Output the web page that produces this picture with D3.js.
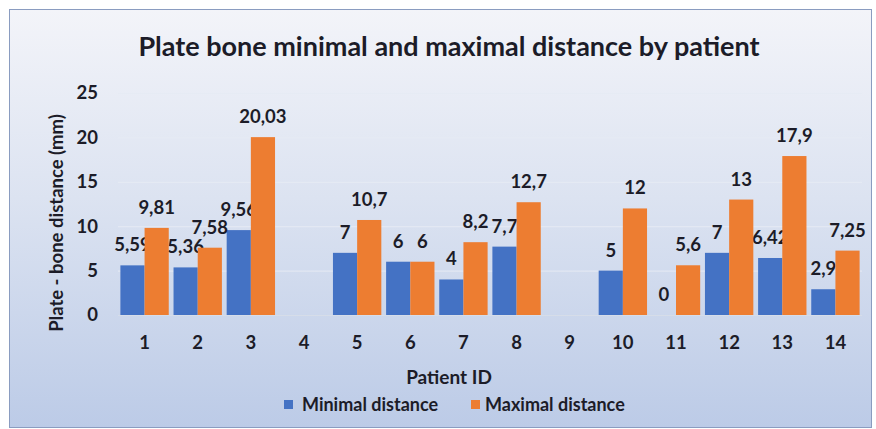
<!DOCTYPE html>
<html><head><meta charset="utf-8">
<script src="https://cdn.jsdelivr.net/npm/d3@7"></script>
<style>body{margin:0;background:#fff}svg{display:block}text{font-family:Lato,"Open Sans",sans-serif;font-weight:bold;fill:#1c1c28}</style>
</head><body><svg id="c" width="876" height="429"></svg>
<script>
const categories = ["1","2","3","4","5","6","7","8","9","10","11","12","13","14"];
const minimal = [5.59, 5.36, 9.56, null, 7, 6, 4, 7.7, null, 5, 0, 7, 6.42, 2.9];
const maximal = [9.81, 7.58, 20.03, null, 10.7, 6, 8.2, 12.7, null, 12, 5.6, 13, 17.9, 7.25];
const yTicks = [0, 5, 10, 15, 20, 25];
const seriesNames = ["Minimal distance", "Maximal distance"];
const colors = ["#4472C4", "#ED7D31"];

const svg = d3.select("#c");
const defs = svg.append("defs");
const g = defs.append("linearGradient").attr("id","bg").attr("x1",0).attr("y1",0).attr("x2",0).attr("y2",1);
g.append("stop").attr("offset","0%").attr("stop-color","#f3f4f9");
g.append("stop").attr("offset","45%").attr("stop-color","#dce3f1");
g.append("stop").attr("offset","100%").attr("stop-color","#bccbe7");
svg.append("rect").attr("x",9.5).attr("y",9.5).attr("width",862).attr("height",418)
  .attr("fill","url(#bg)").attr("stroke","#8a9cc0").attr("stroke-width",1);

const x = d3.scaleBand().domain(categories).range([118, 862]).paddingInner(0.09).paddingOuter(0.045);
const x1 = d3.scaleBand().domain([0,1]).range([0, x.bandwidth()]);
const y = d3.scaleLinear().domain([0, 25]).range([315, 93]);

// gridlines
svg.append("g").selectAll("line").data(yTicks).join("line")
  .attr("x1",118).attr("x2",862).attr("y1",d=>y(d)+0.5).attr("y2",d=>y(d)+0.5)
  .attr("stroke",d=>d===0?"#d6dde9":"#e6ebf4").attr("stroke-width",1);

// y axis labels
const yAxis = d3.axisLeft(y).tickValues(yTicks).tickSize(0).tickPadding(0);
const ya = svg.append("g").attr("transform","translate(98,0)").call(yAxis);
ya.select(".domain").remove();
ya.selectAll("text").attr("font-size",18.5).style("font-family","Lato,sans-serif").style("font-weight","bold").attr("fill","#1c1c28");

// x axis labels
const xAxis = d3.axisBottom(x).tickSize(0).tickPadding(0);
const xa = svg.append("g").attr("transform","translate(0,336)").call(xAxis);
xa.select(".domain").remove();
xa.selectAll("text").attr("font-size",18.5).style("font-family","Lato,sans-serif").style("font-weight","bold").attr("fill","#1c1c28");

const series = [minimal, maximal];
series.forEach((vals, si) => {
  const data = categories.map((c,i)=>({c, v: vals[i]})).filter(d=>d.v!==null);
  svg.append("g").selectAll("rect").data(data).join("rect")
    .attr("x", d=>x(d.c)+x1(si)).attr("width", x1.bandwidth())
    .attr("y", d=>y(d.v)).attr("height", d=>y(0)-y(d.v))
    .attr("fill", colors[si]);
  svg.append("g").selectAll("text").data(data).join("text")
    .attr("x", d=>x(d.c)+x1(si)+x1.bandwidth()/2)
    .attr("y", d=>y(d.v)-14)
    .attr("text-anchor","middle").attr("font-size",18.5)
    .text(d=>String(d.v).replace(".", ","));
});

// title
svg.append("text").attr("x",449).attr("y",56).attr("text-anchor","middle")
  .attr("font-size",27).text("Plate bone minimal and maximal distance by patient");
// axis titles
svg.append("text").attr("x",449).attr("y",384).attr("text-anchor","middle")
  .attr("font-size",19).text("Patient ID");
svg.append("text").attr("transform","translate(62.5,223) rotate(-90)").attr("text-anchor","middle")
  .attr("font-size",18.5).text("Plate - bone distance (mm)");

// legend
const lg = svg.append("g");
const legendSq = [284, 471];
const legendTx = [302, 485];
seriesNames.forEach((n,i)=>{
  lg.append("rect").attr("x",legendSq[i]).attr("y",400).attr("width",9).attr("height",9).attr("fill",colors[i]);
  lg.append("text").attr("x",legendTx[i]).attr("y",410.5).attr("font-size",18).text(n);
});
</script></body></html>
